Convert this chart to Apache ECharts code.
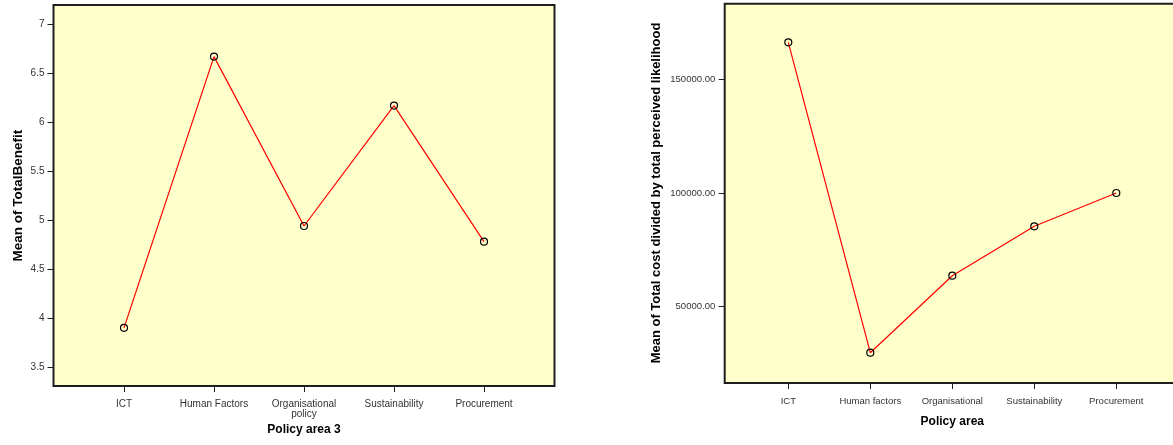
<!DOCTYPE html>
<html>
<head>
<meta charset="utf-8">
<script src="https://cdn.jsdelivr.net/npm/echarts@6/dist/echarts.min.js"></script>
<style>
html,body{margin:0;padding:0;background:#fff;}
#c{width:1173px;height:445px;}
</style>
</head>
<body>
<div id="c"></div>
<script>
// ---- data ----
const leftCategories = ['ICT', 'Human Factors', 'Organisational\npolicy', 'Sustainability', 'Procurement'];
const leftValues = [3.90, 6.67, 4.94, 6.17, 4.78];
const leftYTitle = 'Mean of TotalBenefit';
const leftXTitle = 'Policy area 3';

const rightCategories = ['ICT', 'Human factors', 'Organisational', 'Sustainability', 'Procurement'];
const rightValues = [166270, 29770, 63630, 85360, 100000];
const rightYTitle = 'Mean of Total cost divided by total perceived likelihood';
const rightXTitle = 'Policy area';

const FONT = "'Liberation Sans', Arial, sans-serif";
const frameStyle = {show: true, backgroundColor: '#ffffcc', borderColor: '#1e1e1e', borderWidth: 2, outerBoundsMode: 'none', containLabel: false};

const chart = echarts.init(document.getElementById('c'), null, {renderer: 'canvas'});
chart.setOption({
  backgroundColor: '#ffffff',
  animation: false,
  textStyle: {fontFamily: FONT},
  grid: [
    // frames
    Object.assign({left: 53.5, top: 5, width: 501, height: 381}, frameStyle),
    Object.assign({left: 724.7, top: 3.7, width: 460, height: 379.3}, frameStyle),
    // data grids
    {left: 124, top: 24.3, width: 360, height: 342.7, show: false, outerBoundsMode: 'none', containLabel: false},
    {left: 788.3, top: 79.3, width: 328, height: 227.4, show: false, outerBoundsMode: 'none', containLabel: false}
  ],
  xAxis: [
    {gridIndex: 0, show: false, type: 'value'},
    {gridIndex: 1, show: false, type: 'value'},
    {
      gridIndex: 2, type: 'category', data: leftCategories, boundaryGap: false,
      position: 'bottom', offset: 19,
      axisLine: {show: false},
      axisTick: {show: true, length: 6, lineStyle: {color: '#1e1e1e', width: 1}},
      axisLabel: {fontSize: 10, color: '#333', margin: 13, lineHeight: 10, fontFamily: FONT, interval: 0},
      splitLine: {show: false},
      name: leftXTitle, nameLocation: 'middle', nameGap: 28,
      nameTextStyle: {fontSize: 12, fontWeight: 'bold', color: '#000', fontFamily: FONT}
    },
    {
      gridIndex: 3, type: 'category', data: rightCategories, boundaryGap: false,
      position: 'bottom', offset: 76.3,
      axisLine: {show: false},
      axisTick: {show: true, length: 6, lineStyle: {color: '#1e1e1e', width: 1}},
      axisLabel: {fontSize: 9.5, color: '#333', margin: 13, fontFamily: FONT, interval: 0},
      splitLine: {show: false},
      name: rightXTitle, nameLocation: 'middle', nameGap: 33,
      nameTextStyle: {fontSize: 12, fontWeight: 'bold', color: '#000', fontFamily: FONT}
    }
  ],
  yAxis: [
    {gridIndex: 0, show: false, type: 'value'},
    {gridIndex: 1, show: false, type: 'value'},
    {
      gridIndex: 2, type: 'value', min: 3.5, max: 7, interval: 0.5,
      position: 'left', offset: 70.5,
      axisLine: {show: false},
      axisTick: {show: true, length: 6, lineStyle: {color: '#1e1e1e', width: 1}},
      axisLabel: {fontSize: 10, color: '#333', margin: 9, fontFamily: FONT},
      splitLine: {show: false},
      name: leftYTitle, nameLocation: 'middle', nameGap: 28, nameRotate: 90,
      nameTextStyle: {fontSize: 13.5, fontWeight: 'bold', color: '#000', fontFamily: FONT}
    },
    {
      gridIndex: 3, type: 'value', min: 50000, max: 150000, interval: 50000,
      position: 'left', offset: 63.6,
      axisLine: {show: false},
      axisTick: {show: true, length: 6, lineStyle: {color: '#1e1e1e', width: 1}},
      axisLabel: {fontSize: 9.5, color: '#333', margin: 9.5, fontFamily: FONT,
        formatter: v => v.toFixed(2)},
      splitLine: {show: false},
      name: rightYTitle, nameLocation: 'middle', nameGap: 61.5, nameRotate: 90,
      nameTextStyle: {fontSize: 13, fontWeight: 'bold', color: '#000', fontFamily: FONT}
    }
  ],
  series: [
    {
      type: 'line', xAxisIndex: 2, yAxisIndex: 2, data: leftValues, clip: false,
      symbol: 'circle', symbolSize: 7,
      lineStyle: {color: '#ff0000', width: 1.2},
      itemStyle: {color: 'rgba(0,0,0,0)', borderColor: '#000', borderWidth: 1.2},
      emphasis: {disabled: true}
    },
    {
      type: 'line', xAxisIndex: 3, yAxisIndex: 3, data: rightValues, clip: false,
      symbol: 'circle', symbolSize: 7,
      lineStyle: {color: '#ff0000', width: 1.2},
      itemStyle: {color: 'rgba(0,0,0,0)', borderColor: '#000', borderWidth: 1.2},
      emphasis: {disabled: true}
    }
  ]
});
</script>
</body>
</html>
